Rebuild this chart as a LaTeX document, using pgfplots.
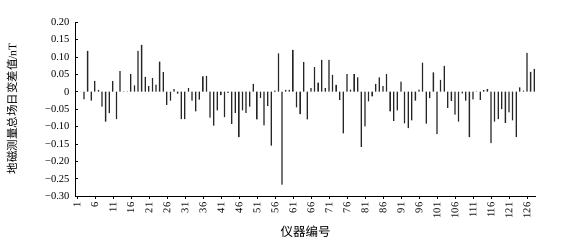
\documentclass[border=0pt]{standalone}
\usepackage{fontspec}
\setmainfont{Liberation Serif}
\newfontfamily\cjk{Noto Sans CJK SC}
\usepackage{pgfplots}
\usepackage{pgfplotstable}
\pgfplotsset{compat=1.18}
\pgfplotstableread{
x y
1 0
2 0
3 -0.022
4 0.117
5 -0.026
6 0.031
7 0.005
8 -0.043
9 -0.086
10 -0.062
11 0.030
12 -0.079
13 0.059
14 0.001
15 0.001
16 0.050
17 0.018
18 0.117
19 0.134
20 0.042
21 0.016
22 0.039
23 0.020
24 0.086
25 0.056
26 -0.038
27 -0.026
28 0.007
29 -0.006
30 -0.079
31 -0.079
32 0.010
33 -0.026
34 -0.057
35 -0.023
36 0.044
37 0.045
38 -0.075
39 -0.098
40 -0.054
41 -0.010
42 -0.073
43 -0.004
44 -0.093
45 -0.061
46 -0.131
47 -0.054
48 -0.061
49 -0.043
50 0.022
51 -0.080
52 -0.018
53 -0.097
54 -0.041
55 -0.155
56 0.003
57 0.110
58 -0.267
59 0.005
60 0.005
61 0.120
62 -0.045
63 -0.065
64 0.085
65 -0.080
66 0.010
67 0.070
68 0.026
69 0.091
70 0.010
71 0.091
72 0.048
73 0.019
74 -0.024
75 -0.120
76 0.050
77 0.006
78 0.050
79 0.041
80 -0.159
81 -0.100
82 -0.028
83 -0.014
84 0.022
85 0.041
86 0.016
87 0.050
88 -0.057
89 -0.084
90 -0.054
91 0.029
92 -0.091
93 -0.105
94 -0.083
95 -0.026
96 0.006
97 0.083
98 -0.092
99 -0.019
100 0.055
101 -0.122
102 0.034
103 0.074
104 -0.047
105 -0.027
106 -0.066
107 -0.086
108 -0.005
109 -0.026
110 -0.131
111 -0.022
112 -0.001
113 -0.024
114 0.004
115 0.007
116 -0.148
117 -0.086
118 -0.079
119 -0.050
120 -0.090
121 -0.060
122 -0.083
123 -0.130
124 0.012
125 0.003
126 0.111
127 0.057
128 0.065
}\datatable
\begin{document}
\begin{tikzpicture}
\useasboundingbox (-75pt,-48pt) rectangle (497pt,196pt);
\begin{axis}[
  at={(0,0)}, anchor=south west,
  scale only axis,
  width=461pt, height=174pt,
  axis lines*=left,
  xmin=0.5, xmax=128.5,
  ymin=-0.30, ymax=0.20,
  xtick={1,6,...,126},
  ytick={-0.30,-0.25,-0.20,-0.15,-0.10,-0.05,0,0.05,0.10,0.15,0.20},
  yticklabels={−0.30,−0.25,−0.20,−0.15,−0.10,−0.05,0,0.05,0.10,0.15,0.20},
  tick align=inside,
  major tick length=3pt,
  tick style={black, line width=0.6pt},
  axis line style={black, line width=0.8pt},
  x tick label style={rotate=90, anchor=east, font=\fontsize{10.5}{12}\selectfont, /pgf/number format/assume math mode=true},
  y tick label style={font=\fontsize{10.5}{12}\selectfont, xshift=-2pt},
  ylabel={{\cjk 地磁测量总场日变差值}/nT},
  ylabel style={at={(axis description cs:-0.137,0.5)}, anchor=center, rotate=0, font=\fontsize{11.5}{13}\selectfont},
  xlabel={\cjk 仪器编号},
  xlabel style={at={(axis description cs:0.5,0)}, anchor=center, yshift=-36pt, font=\fontsize{12.5}{14}\selectfont},
  ybar, bar width=1.3pt,
]
\addplot[fill=black!85, draw=none] table[x=x,y=y] {\datatable};
\end{axis}
\end{tikzpicture}
\end{document}
